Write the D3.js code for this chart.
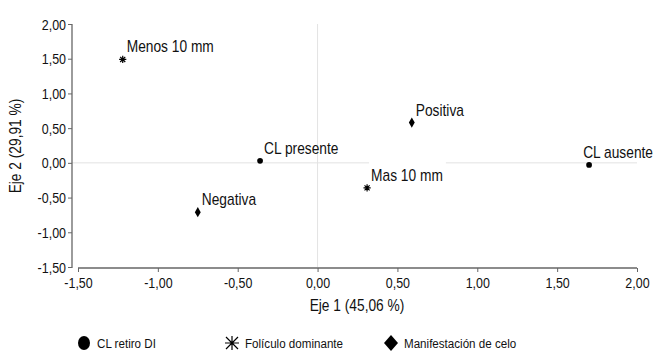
<!DOCTYPE html>
<html><head><meta charset="utf-8">
<script src="https://cdn.jsdelivr.net/npm/d3@7"></script>
<style>
body{margin:0;background:#fff;}
text{font-family:"Liberation Sans",Arial,sans-serif;fill:#111;font-size:14px;}
</style></head>
<body><svg id="c" width="654" height="358"></svg>
<script>
const series = ["CL retiro DI", "Folículo dominante", "Manifestación de celo"];
const labels = ["CL presente", "CL ausente", "Menos 10 mm", "Mas 10 mm", "Positiva", "Negativa"];
const groups = [0, 0, 1, 1, 2, 2];
const eje1 = [-0.36, 1.70, -1.22, 0.31, 0.59, -0.75];
const eje2 = [0.03, -0.03, 1.49, -0.36, 0.58, -0.71];
const xTicks = [-1.5, -1.0, -0.5, 0, 0.5, 1.0, 1.5, 2.0];
const yTicks = [-1.5, -1.0, -0.5, 0, 0.5, 1.0, 1.5, 2.0];
const xTitle = "Eje 1 (45,06 %)";
const yTitle = "Eje 2 (29,91 %)";

const SX = 0.86;
const W = 654;
const svg = d3.select("#c");
const x = d3.scaleLinear().domain([-1.5, 2.0]).range([78, 637]);
const y = d3.scaleLinear().domain([-1.5, 2.0]).range([267, 24]);
const fmt = d => d3.format(".2f")(d).replace(".", ",").replace("−", "-");

function narrowText(parent, tx, ty, str, anchor, size, rot) {
  return parent.append("text")
    .attr("transform", `translate(${tx},${ty})${rot ? " rotate(" + rot + ")" : ""} scale(${SX},1)`)
    .attr("text-anchor", anchor || "start").style("font-size", size + "px").text(str);
}

// zero gridlines
svg.append("line").attr("x1", x(0)).attr("x2", x(0)).attr("y1", y(2)).attr("y2", y(-1.5))
  .attr("stroke", "#e3e3e3").attr("stroke-width", 1);
svg.append("line").attr("x1", 72).attr("x2", x(2)).attr("y1", y(0)).attr("y2", y(0))
  .attr("stroke", "#e3e3e3").attr("stroke-width", 1);

// axes
const yAxis = svg.append("g").attr("transform", "translate(72,0)")
  .call(d3.axisLeft(y).tickValues(yTicks).tickFormat(fmt).tickSize(4).tickPadding(2));
const xAxis = svg.append("g").attr("transform", "translate(0,268)")
  .call(d3.axisBottom(x).tickValues(xTicks).tickFormat(fmt).tickSize(4).tickPadding(3));
[yAxis, xAxis].forEach(g => {
  g.select(".domain").attr("stroke", "#666").attr("stroke-width", 1.3);
  g.selectAll(".tick line").attr("stroke", "#666");
  g.selectAll("text").attr("font-size", null).attr("font-family", null).attr("fill", "#111")
    .style("font-size", "14.5px");
});
yAxis.selectAll(".tick text").attr("x", null).attr("dy", null)
  .attr("transform", `translate(-6,5) scale(${SX},1)`);
xAxis.selectAll(".tick text").attr("y", null).attr("dy", null)
  .attr("transform", `translate(0,20) scale(${SX},1)`);
xAxis.select(".domain").attr("d", `M${x(-1.5)},0H${x(2)}`);
yAxis.select(".domain").attr("d", `M0,${y(2)}V${y(-1.5) + 1}`);

narrowText(svg, 357, 311, xTitle, "middle", 16);
narrowText(svg, 21, 146, yTitle, "middle", 16, -90);

// markers
const circleSym = d3.symbol().type(d3.symbolCircle);
const diamondSym = d3.symbol().type(d3.symbolDiamond);
function asterisk(g, s, w) {
  const p = d3.path();
  for (let i = 0; i < 4; i++) {
    const a = i * Math.PI / 4;
    p.moveTo(-Math.cos(a) * s, -Math.sin(a) * s);
    p.lineTo(Math.cos(a) * s, Math.sin(a) * s);
  }
  g.append("path").attr("d", p.toString()).attr("stroke", "#000").attr("stroke-width", w).attr("fill", "none");
}
function marker(g, type) {
  if (type === 0) g.append("path").attr("d", circleSym.size(26)()).attr("fill", "#000");
  else if (type === 1) asterisk(g, 3.6, 1.2);
  else g.append("path").attr("d", diamondSym.size(30)()).attr("fill", "#000");
}

const bgLayer = svg.append("g");
const LS = 16;
labels.forEach((lab, i) => {
  const px = x(eje1[i]), py = y(eje2[i]);
  const g = svg.append("g").attr("transform", `translate(${px},${py})`);
  marker(g, groups[i]);
  const t = narrowText(svg, px + 4, py - 7, lab, "start", LS);
  const w = t.node().getComputedTextLength() * SX;
  if (px + 4 + w > W - 1) {
    t.attr("transform", `translate(${W - 1 - w},${py - 7}) scale(${SX},1)`);
  }
  if (lab === "Mas 10 mm") {
    bgLayer.append("rect").attr("x", px + 2).attr("y", py - 27)
      .attr("width", w + 5).attr("height", 25).attr("fill", "#fff");
  }
});

// legend
const legX = [84, 232, 391];
series.forEach((s, i) => {
  const g = svg.append("g").attr("transform", `translate(${legX[i]},343)`);
  if (i === 0) g.append("ellipse").attr("rx", 6).attr("ry", 7).attr("fill", "#000");
  else if (i === 1) {
    const p = d3.path();
    [[0, -7, 0, 7], [-7, 0, 7, 0], [-6, -6, 6, 6], [-6, 6, 6, -6]].forEach(l => { p.moveTo(l[0], l[1]); p.lineTo(l[2], l[3]); });
    g.append("path").attr("d", p.toString()).attr("stroke", "#000").attr("stroke-width", 1.2);
  } else g.append("path").attr("d", "M0,-8L7,0L0,8L-7,0Z").attr("fill", "#000");
  narrowText(svg, legX[i] + 13, 348, s, "start", 13.5);
});
</script></body></html>
